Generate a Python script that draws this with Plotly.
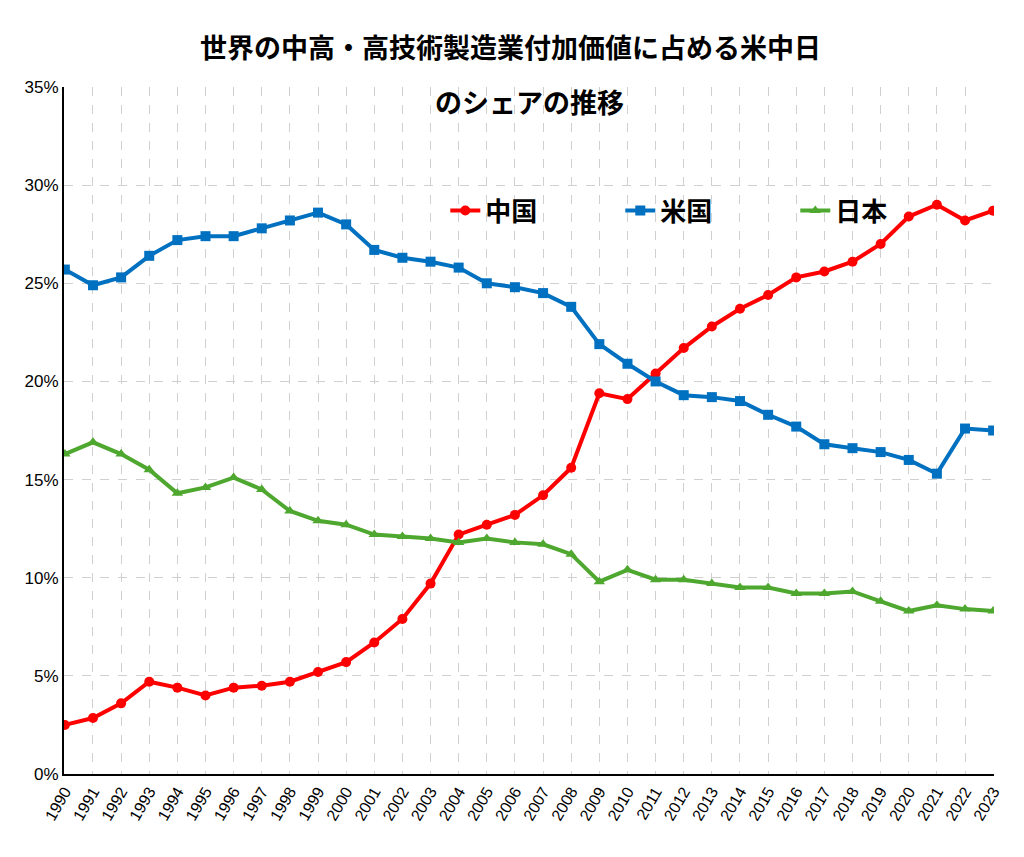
import plotly.graph_objects as go

years = [str(y) for y in range(1990, 2024)]
china = [2.5, 2.85, 3.6, 4.7, 4.4, 4.0, 4.4, 4.5, 4.7, 5.2, 5.7, 6.7, 7.9, 9.7, 12.2, 12.7,
         13.2, 14.2, 15.6, 19.4, 19.1, 20.4, 21.7, 22.8, 23.7, 24.4, 25.3, 25.6, 26.1, 27.0,
         28.4, 29.0, 28.2, 28.7]
usa = [25.7, 24.9, 25.3, 26.4, 27.2, 27.4, 27.4, 27.8, 28.2, 28.6, 28.0, 26.7, 26.3, 26.1,
       25.8, 25.0, 24.8, 24.5, 23.8, 21.9, 20.9, 20.0, 19.3, 19.2, 19.0, 18.3, 17.7, 16.8,
       16.6, 16.4, 16.0, 15.3, 17.6, 17.5]
japan = [16.3, 16.9, 16.3, 15.5, 14.3, 14.6, 15.1, 14.5, 13.4, 12.9, 12.7, 12.2, 12.1, 12.0,
         11.8, 12.0, 11.8, 11.7, 11.2, 9.8, 10.4, 9.9, 9.9, 9.7, 9.5, 9.5, 9.2, 9.2, 9.3, 8.8,
         8.3, 8.6, 8.4, 8.3]

font = "Noto Sans CJK JP"
fig = go.Figure()
fig.add_trace(go.Scatter(x=years, y=china, name="<b>中国</b>", mode="lines+markers",
                         line=dict(color="#ff0000", width=4), marker=dict(symbol="circle", size=10)))
fig.add_trace(go.Scatter(x=years, y=usa, name="<b>米国</b>", mode="lines+markers",
                         line=dict(color="#0070c0", width=4), marker=dict(symbol="square", size=10)))
fig.add_trace(go.Scatter(x=years, y=japan, name="<b>日本</b>", mode="lines+markers",
                         line=dict(color="#4ea72e", width=4), marker=dict(symbol="triangle-up", size=10)))

fig.update_layout(
    width=1024, height=857, plot_bgcolor="white", paper_bgcolor="white",
    margin=dict(l=56, r=38, t=79, b=91),
    font=dict(family=font, color="black"),
    showlegend=True,
    legend=dict(orientation="h", x=0.41, y=0.82, xanchor="left", yanchor="middle",
                entrywidth=130, font=dict(size=26, family=font), bgcolor="rgba(0,0,0,0)"),
)
fig.add_annotation(text="<b>世界の中高・高技術製造業付加価値に占める米中日</b>", xref="paper",
                   yref="paper", x=0.48, y=1.0, yshift=41, yanchor="middle", showarrow=False,
                   font=dict(size=27))
fig.add_annotation(text="<b>のシェアの推移</b>", xref="paper", yref="paper", x=0.5, y=1.0,
                   yshift=-14, yanchor="middle", showarrow=False, font=dict(size=27))
fig.update_xaxes(showline=True, linecolor="black", linewidth=2, showgrid=True,
                 gridcolor="#d0d0d0", griddash="dash", tickangle=-60, ticks="",
                 tickfont=dict(size=16, family="Liberation Sans"), range=[-0.03, 33.03])
fig.update_yaxes(range=[0, 35], dtick=5, ticksuffix="%", showline=True, linecolor="black",
                 linewidth=2, showgrid=True, gridcolor="#d0d0d0", griddash="dash",
                 zeroline=False, tickfont=dict(size=17, family="Liberation Sans"))
fig.write_html("out.html")
